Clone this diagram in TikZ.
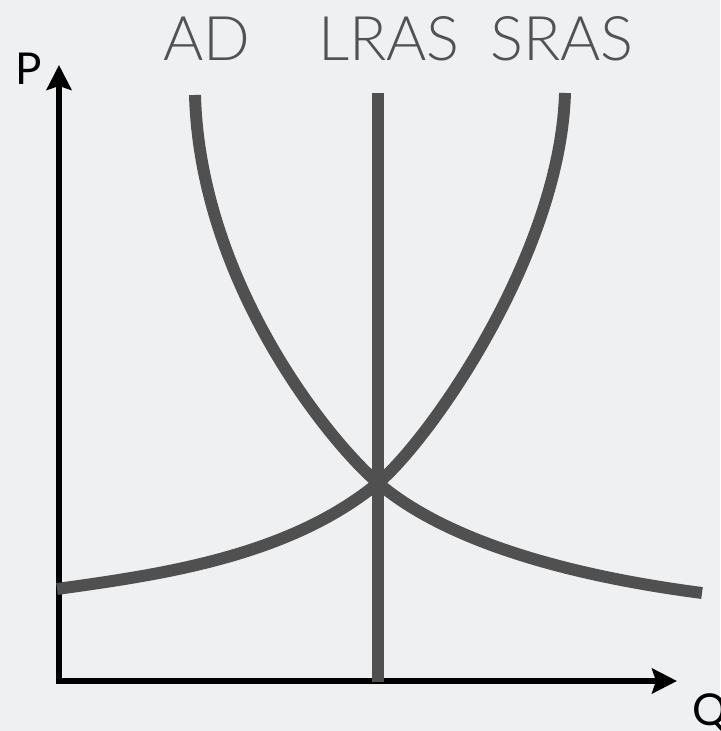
\documentclass[tikz,border=0pt]{standalone}
\usepackage{fontspec}
\setmainfont{Lato}
\newfontfamily\lightfont{Lato Light}
\usetikzlibrary{arrows.meta}
\definecolor{bggray}{RGB}{239,240,242}
\definecolor{curvegray}{RGB}{80,80,80}
\definecolor{labelgray}{RGB}{82,82,82}

\begin{document}
\begin{tikzpicture}[
	curve/.style={draw=curvegray, line width=6.8pt},
	axis/.style={draw=black, line width=2.85pt, {Stealth[length=0.5cm, width=0.5cm, inset=0.08cm]}-{Stealth[length=0.5cm, width=0.5cm, inset=0.08cm]}},
	title/.style={text=labelgray, font=\lightfont\fontsize{35}{40}\selectfont, anchor=base, inner sep=0pt},
	axislabel/.style={text=black, font=\fontsize{25}{30}\selectfont, inner sep=0pt}]
	% Background and frame:
	\useasboundingbox (0, 0) rectangle (14.4, 14.62);
	\fill[bggray] (0, 0) rectangle (14.4, 14.62);
	% Axes:
	\coordinate (origin) at (1.18, 1.0);
	\coordinate (ptip) at (1.18, 13.32);
	\coordinate (qtip) at (13.54, 1.0);
	\draw[axis] (ptip) -- (origin) -- (qtip);
	\node[axislabel, anchor=base] (plabel) at (0.58, 12.92){P};
	\node[axislabel, anchor=base west] (qlabel) at (13.84, 0.12){Q};
	% Curves:
	\coordinate (eq) at (7.56, 4.96);
	\coordinate (lrastop) at (7.56, 12.76);
	\coordinate (lrasbot) at (7.56, 0.98);
	\coordinate (adtop) at (3.90, 12.72);
	\coordinate (adend) at (14.04, 2.76);
	\coordinate (srastop) at (11.30, 12.76);
	\coordinate (srasend) at (1.14, 2.84);
	\draw[curve] (lrastop) -- (lrasbot);
	\draw[curve] (adtop) .. controls (4.0, 9.0) and (6.56, 5.81) .. (eq) .. controls (9.16, 3.6) and (12.04, 3.02) .. (adend);
	\draw[curve] (srastop) .. controls (11.20, 9.5) and (8.56, 5.79) .. (eq) .. controls (5.76, 3.47) and (3.14, 3.12) .. (srasend);
	% Labels:
	\node[title] (ad) at (4.14, 13.40){AD};
	\node[title] (lras) at (7.78, 13.40){LRAS};
	\node[title] (sras) at (11.24, 13.40){SRAS};
\end{tikzpicture}
\end{document}
